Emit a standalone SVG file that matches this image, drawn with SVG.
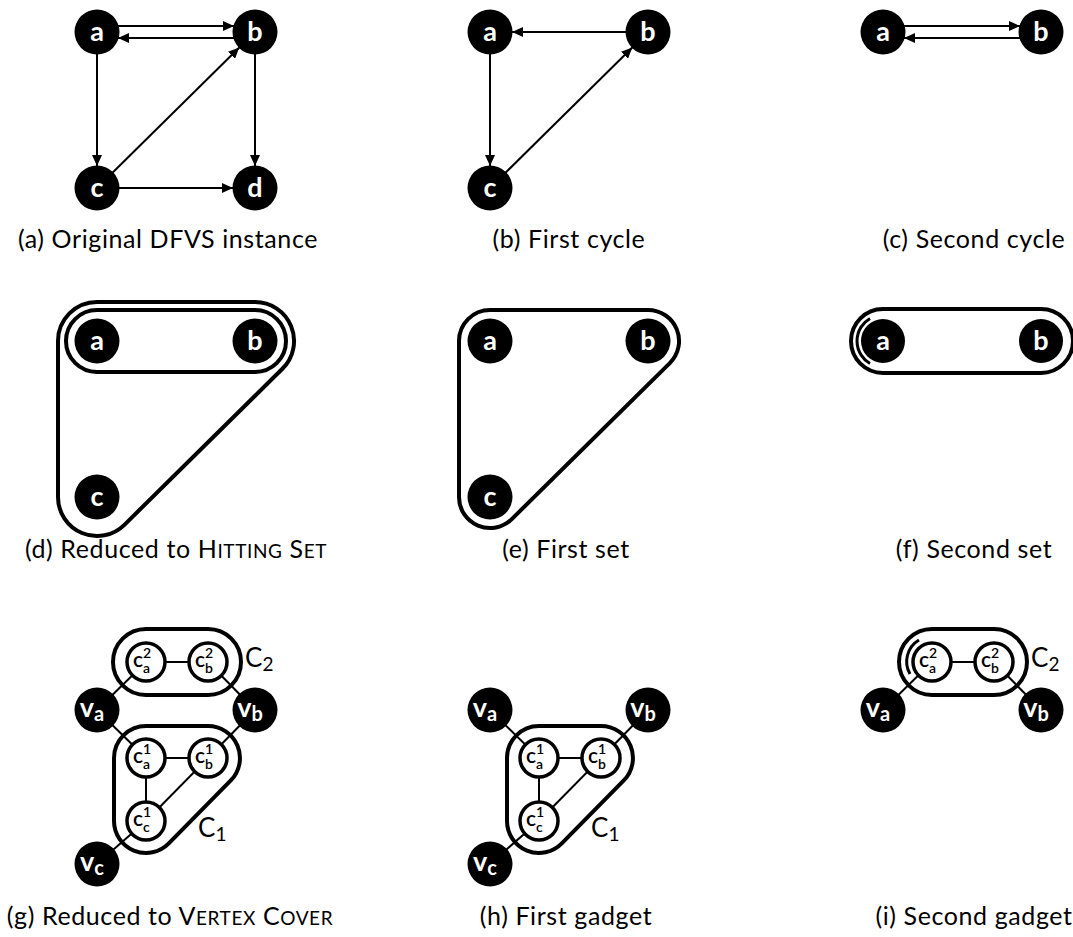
<svg xmlns="http://www.w3.org/2000/svg" width="1073" height="937" viewBox="0 0 1073 937">
  <style>
    .node circle { fill: #000; }
    .node text { fill: #fff; font-family: Lato, "Liberation Sans", sans-serif; font-weight: bold; font-size: 27px; text-anchor: middle; }
    .gnode circle { fill: #fff; stroke: #000; stroke-width: 3.5; }
    .gnode text { fill: #000; font-family: Lato, "Liberation Sans", sans-serif; font-weight: 600; font-size: 21px; text-anchor: middle; }
    .arc { stroke: #000; stroke-width: 2; fill: none; }
    .edge { stroke: #000; stroke-width: 2; fill: none; }
    .hull { stroke: #000; stroke-width: 4; fill: none; }
    .inner { stroke: #000; stroke-width: 3; fill: none; }
    .cap { font-family: Lato, "Liberation Sans", sans-serif; font-size: 25px; letter-spacing: 0.6px; fill: #000; text-anchor: middle; }
    .set { font-family: Lato, "Liberation Sans", sans-serif; font-size: 26px; fill: #000; }
  </style>
  <defs>
    <marker id="arrow" markerUnits="userSpaceOnUse" markerWidth="11" markerHeight="10" refX="11" refY="5" orient="auto">
      <path d="M0,0 L11,5 L0,10 Z" fill="#000"/>
    </marker>
  </defs>

  <!-- ===== (a) original instance ===== -->
  <g id="connectors-a">
    <line class="arc" x1="118" y1="26" x2="234" y2="26" marker-end="url(#arrow)"/>
    <line class="arc" x1="234" y1="38" x2="118" y2="38" marker-end="url(#arrow)"/>
    <line class="arc" x1="97" y1="54" x2="97" y2="166" marker-end="url(#arrow)"/>
    <line class="arc" x1="255" y1="54" x2="255" y2="166" marker-end="url(#arrow)"/>
    <line class="arc" x1="119" y1="188" x2="233" y2="188" marker-end="url(#arrow)"/>
    <line class="arc" x1="112.7" y1="172.5" x2="239.3" y2="47.5" marker-end="url(#arrow)"/>
  </g>
  <g id="a-a" class="node"><circle cx="97" cy="32" r="22.5"/><text x="97" y="41">a</text></g>
  <g id="a-b" class="node"><circle cx="255" cy="32" r="22.5"/><text x="255" y="41">b</text></g>
  <g id="a-c" class="node"><circle cx="97" cy="188" r="22.5"/><text x="97" y="197">c</text></g>
  <g id="a-d" class="node"><circle cx="255" cy="188" r="22.5"/><text x="255" y="197">d</text></g>
  <text class="cap" x="168" y="248">(a) Original DFVS instance</text>

  <!-- ===== (b) first cycle ===== -->
  <g id="connectors-b">
    <line class="arc" x1="626" y1="32" x2="512" y2="32" marker-end="url(#arrow)"/>
    <line class="arc" x1="490" y1="54" x2="490" y2="166" marker-end="url(#arrow)"/>
    <line class="arc" x1="505.7" y1="172.5" x2="632.3" y2="47.5" marker-end="url(#arrow)"/>
  </g>
  <g id="b-a" class="node"><circle cx="490" cy="32" r="22.5"/><text x="490" y="41">a</text></g>
  <g id="b-b" class="node"><circle cx="648" cy="32" r="22.5"/><text x="648" y="41">b</text></g>
  <g id="b-c" class="node"><circle cx="490" cy="188" r="22.5"/><text x="490" y="197">c</text></g>
  <text class="cap" x="569" y="248">(b) First cycle</text>

  <!-- ===== (c) second cycle ===== -->
  <g id="connectors-c">
    <line class="arc" x1="904" y1="26" x2="1020" y2="26" marker-end="url(#arrow)"/>
    <line class="arc" x1="1020" y1="38" x2="904" y2="38" marker-end="url(#arrow)"/>
  </g>
  <g id="c-a" class="node"><circle cx="883" cy="32" r="22.5"/><text x="883" y="41">a</text></g>
  <g id="c-b" class="node"><circle cx="1041" cy="32" r="22.5"/><text x="1041" y="41">b</text></g>
  <text class="cap" x="974" y="248">(c) Second cycle</text>

  <!-- ===== (d) hitting set ===== -->
  <g id="d-sets">
    <path class="hull" d="M97,302 H255 A39,39 0 0 1 282.4,368.8 L124.4,524.8 A39,39 0 0 1 58,497 V341 A39,39 0 0 1 97,302 Z"/>
    <path class="hull" d="M97,310 H255 A31,31 0 0 1 255,372 H97 A31,31 0 0 1 97,310 Z"/>
  </g>
  <g id="d-a" class="node"><circle cx="97" cy="341" r="22.5"/><text x="97" y="350">a</text></g>
  <g id="d-b" class="node"><circle cx="255" cy="341" r="22.5"/><text x="255" y="350">b</text></g>
  <g id="d-c" class="node"><circle cx="97" cy="497" r="22.5"/><text x="97" y="506">c</text></g>
  <text class="cap" x="176" y="558">(d) Reduced to H<tspan font-size="19">ITTING</tspan> S<tspan font-size="19">ET</tspan></text>

  <!-- ===== (e) first set ===== -->
  <g id="e-sets">
    <path class="hull" d="M490,310 H648 A31,31 0 0 1 669.8,363.1 L511.8,519.1 A31,31 0 0 1 459,497 V341 A31,31 0 0 1 490,310 Z"/>
  </g>
  <g id="e-a" class="node"><circle cx="490" cy="341" r="22.5"/><text x="490" y="350">a</text></g>
  <g id="e-b" class="node"><circle cx="648" cy="341" r="22.5"/><text x="648" y="350">b</text></g>
  <g id="e-c" class="node"><circle cx="490" cy="497" r="22.5"/><text x="490" y="506">c</text></g>
  <text class="cap" x="566" y="558">(e) First set</text>

  <!-- ===== (f) second set ===== -->
  <g id="f-sets">
    <path class="hull" d="M883,309 H1041 A32,32 0 0 1 1041,373 H883 A32,32 0 0 1 883,309 Z"/>
    <path class="inner" d="M870,318.5 A26,26 0 0 0 870,363.5"/>
  </g>
  <g id="f-a" class="node"><circle cx="883" cy="341" r="22"/><text x="883" y="350">a</text></g>
  <g id="f-b" class="node"><circle cx="1041" cy="341" r="22"/><text x="1041" y="350">b</text></g>
  <text class="cap" x="974" y="558">(f) Second set</text>

  <!-- ===== (g) vertex cover ===== -->
  <g id="g-edges">
    <line class="edge" x1="97" y1="710" x2="146" y2="662"/>
    <line class="edge" x1="97" y1="710" x2="146" y2="758"/>
    <line class="edge" x1="255" y1="710" x2="208" y2="662"/>
    <line class="edge" x1="255" y1="710" x2="208" y2="758"/>
    <line class="edge" x1="97" y1="864" x2="146" y2="821"/>
    <line class="edge" x1="146" y1="662" x2="208" y2="662"/>
    <line class="edge" x1="146" y1="758" x2="208" y2="758"/>
    <line class="edge" x1="146" y1="758" x2="146" y2="821"/>
    <line class="edge" x1="208" y1="758" x2="146" y2="821"/>
  </g>
  <g id="g-gadgets">
    <path class="hull" d="M146,629 H208 A33,33 0 0 1 208,695 H146 A33,33 0 0 1 146,629 Z"/>
    <path class="hull" d="M146,726 H208 A32,32 0 0 1 230.8,780.4 L168.8,843.4 A32,32 0 0 1 114,821 V758 A32,32 0 0 1 146,726 Z"/>
  </g>
  <g id="g-va" class="node"><circle cx="97" cy="710" r="22.5"/><text x="92" y="717">v<tspan font-size="20" dy="4">a</tspan></text></g>
  <g id="g-vb" class="node"><circle cx="255" cy="710" r="22.5"/><text x="250" y="717">v<tspan font-size="20" dy="4">b</tspan></text></g>
  <g id="g-vc" class="node"><circle cx="97" cy="864" r="22.5"/><text x="92" y="871">v<tspan font-size="20" dy="4">c</tspan></text></g>
  <g id="g-c2a" class="gnode"><circle cx="146" cy="662" r="19"/><text x="142" y="667">c<tspan font-size="14" dy="-9">2</tspan><tspan font-size="14" dx="-8" dy="15">a</tspan></text></g>
  <g id="g-c2b" class="gnode"><circle cx="208" cy="662" r="19"/><text x="204" y="667">c<tspan font-size="14" dy="-9">2</tspan><tspan font-size="14" dx="-8" dy="15">b</tspan></text></g>
  <g id="g-c1a" class="gnode"><circle cx="146" cy="758" r="19"/><text x="142" y="763">c<tspan font-size="14" dy="-9">1</tspan><tspan font-size="14" dx="-8" dy="15">a</tspan></text></g>
  <g id="g-c1b" class="gnode"><circle cx="208" cy="758" r="19"/><text x="204" y="763">c<tspan font-size="14" dy="-9">1</tspan><tspan font-size="14" dx="-8" dy="15">b</tspan></text></g>
  <g id="g-c1c" class="gnode"><circle cx="146" cy="821" r="19"/><text x="142" y="826">c<tspan font-size="14" dy="-9">1</tspan><tspan font-size="14" dx="-8" dy="15">c</tspan></text></g>
  <text class="set" x="245" y="667">C<tspan font-size="19" dy="4">2</tspan></text>
  <text class="set" x="198" y="837">C<tspan font-size="19" dy="4">1</tspan></text>
  <text class="cap" x="170" y="925">(g) Reduced to V<tspan font-size="19">ERTEX</tspan> C<tspan font-size="19">OVER</tspan></text>

  <!-- ===== (h) first gadget ===== -->
  <g id="h-edges">
    <line class="edge" x1="490" y1="710" x2="539" y2="758"/>
    <line class="edge" x1="648" y1="710" x2="601" y2="758"/>
    <line class="edge" x1="490" y1="864" x2="539" y2="821"/>
    <line class="edge" x1="539" y1="758" x2="601" y2="758"/>
    <line class="edge" x1="539" y1="758" x2="539" y2="821"/>
    <line class="edge" x1="601" y1="758" x2="539" y2="821"/>
  </g>
  <g id="h-gadget">
    <path class="hull" d="M539,726 H601 A32,32 0 0 1 623.8,780.4 L561.8,843.4 A32,32 0 0 1 507,821 V758 A32,32 0 0 1 539,726 Z"/>
  </g>
  <g id="h-va" class="node"><circle cx="490" cy="710" r="22.5"/><text x="485" y="717">v<tspan font-size="20" dy="4">a</tspan></text></g>
  <g id="h-vb" class="node"><circle cx="648" cy="710" r="22.5"/><text x="643" y="717">v<tspan font-size="20" dy="4">b</tspan></text></g>
  <g id="h-vc" class="node"><circle cx="490" cy="864" r="22.5"/><text x="485" y="871">v<tspan font-size="20" dy="4">c</tspan></text></g>
  <g id="h-c1a" class="gnode"><circle cx="539" cy="758" r="19"/><text x="535" y="763">c<tspan font-size="14" dy="-9">1</tspan><tspan font-size="14" dx="-8" dy="15">a</tspan></text></g>
  <g id="h-c1b" class="gnode"><circle cx="601" cy="758" r="19"/><text x="597" y="763">c<tspan font-size="14" dy="-9">1</tspan><tspan font-size="14" dx="-8" dy="15">b</tspan></text></g>
  <g id="h-c1c" class="gnode"><circle cx="539" cy="821" r="19"/><text x="535" y="826">c<tspan font-size="14" dy="-9">1</tspan><tspan font-size="14" dx="-8" dy="15">c</tspan></text></g>
  <text class="set" x="591" y="837">C<tspan font-size="19" dy="4">1</tspan></text>
  <text class="cap" x="566" y="925">(h) First gadget</text>

  <!-- ===== (i) second gadget ===== -->
  <g id="i-edges">
    <line class="edge" x1="883" y1="710" x2="932" y2="662"/>
    <line class="edge" x1="1041" y1="710" x2="994" y2="662"/>
    <line class="edge" x1="932" y1="662" x2="994" y2="662"/>
  </g>
  <g id="i-gadget">
    <path class="hull" d="M932,629 H994 A33,33 0 0 1 994,695 H932 A33,33 0 0 1 932,629 Z"/>
    <path class="inner" d="M919,640 A25,25 0 0 0 910,674"/>
  </g>
  <g id="i-va" class="node"><circle cx="883" cy="710" r="22.5"/><text x="878" y="717">v<tspan font-size="20" dy="4">a</tspan></text></g>
  <g id="i-vb" class="node"><circle cx="1041" cy="710" r="22.5"/><text x="1036" y="717">v<tspan font-size="20" dy="4">b</tspan></text></g>
  <g id="i-c2a" class="gnode"><circle cx="932" cy="662" r="19"/><text x="928" y="667">c<tspan font-size="14" dy="-9">2</tspan><tspan font-size="14" dx="-8" dy="15">a</tspan></text></g>
  <g id="i-c2b" class="gnode"><circle cx="994" cy="662" r="19"/><text x="990" y="667">c<tspan font-size="14" dy="-9">2</tspan><tspan font-size="14" dx="-8" dy="15">b</tspan></text></g>
  <text class="set" x="1031" y="667">C<tspan font-size="19" dy="4">2</tspan></text>
  <text class="cap" x="974" y="925">(i) Second gadget</text>
</svg>
